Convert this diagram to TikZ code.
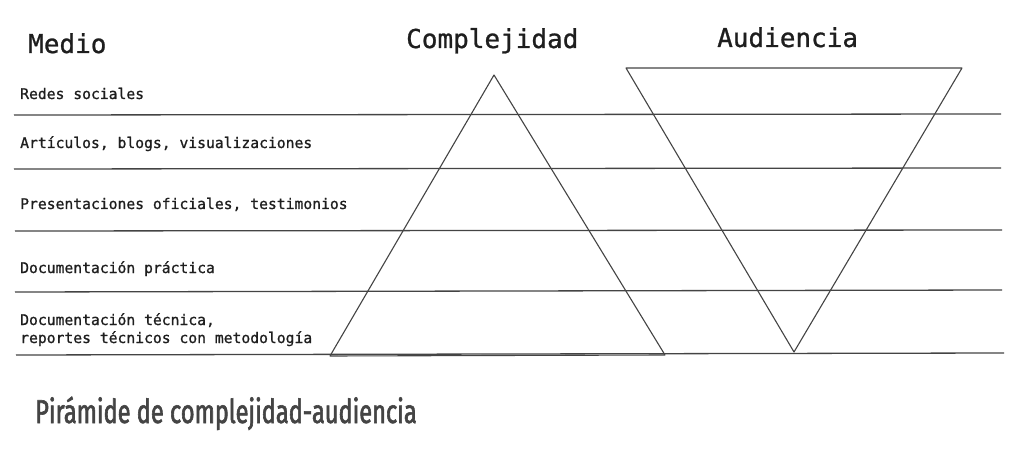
\documentclass[tikz,border=0pt]{standalone}
\usepackage{fontspec}
\setmonofont[FakeBold=0.9]{DejaVu Sans Mono}
\newfontfamily\titlefont[FakeStretch=0.715,FakeBold=1.8]{Fira Sans}
\definecolor{ink}{HTML}{1E1E1E}
\definecolor{rule}{HTML}{444444}
\definecolor{titlegray}{HTML}{444444}
\begin{document}
\begin{tikzpicture}[x=1pt,y=-1pt,
  head/.style={font=\ttfamily\fontsize{26}{30}\selectfont, text=ink, inner sep=0pt, anchor=base west},
  rowlabel/.style={font=\ttfamily\fontsize{14.7}{18}\selectfont, text=ink, inner sep=0pt, anchor=base west, align=left},
  rowline/.style={draw=rule, line width=1.3pt},
  tri/.style={draw=rule, line width=1.1pt, line join=round}]
\useasboundingbox (0,0) rectangle (1017,449);
\fill[white] (0,0) rectangle (1017,449);
% headings
\node[head] (medio) at (28,53) {Medio};
\node[head] (compl) at (406,48) {Complejidad};
\node[head] (aud) at (717,47) {Audiencia};
% row labels
\node[rowlabel] (r1) at (20,99) {Redes sociales};
\node[rowlabel] (r2) at (20,148) {Artículos, blogs, visualizaciones};
\node[rowlabel] (r3) at (20,209) {Presentaciones oficiales, testimonios};
\node[rowlabel] (r4) at (20,273) {Documentación práctica};
\node[rowlabel] (r5a) at (20,325) {Documentación técnica,};
\node[rowlabel] (r5b) at (20,343) {reportes técnicos con metodología};
% horizontal rules
\draw[rowline] (14,115) -- (1001,114);
\draw[rowline] (14,169) -- (1001,168);
\draw[rowline] (15,231) -- (1002,230);
\draw[rowline] (15,292) -- (1002,290);
\draw[rowline] (16,355) -- (1004,353);
% pyramid
\draw[tri] (494,75) -- (665,355) -- (330,356) -- cycle;
% inverted pyramid
\draw[tri] (626,68) -- (962,68) -- (794,352) -- cycle;
% title
\node[font=\titlefont\fontsize{33}{38}\selectfont, text=titlegray, inner sep=0pt, anchor=base west] (title) at (35,423) {Pirámide de complejidad-audiencia};
\end{tikzpicture}
\end{document}
